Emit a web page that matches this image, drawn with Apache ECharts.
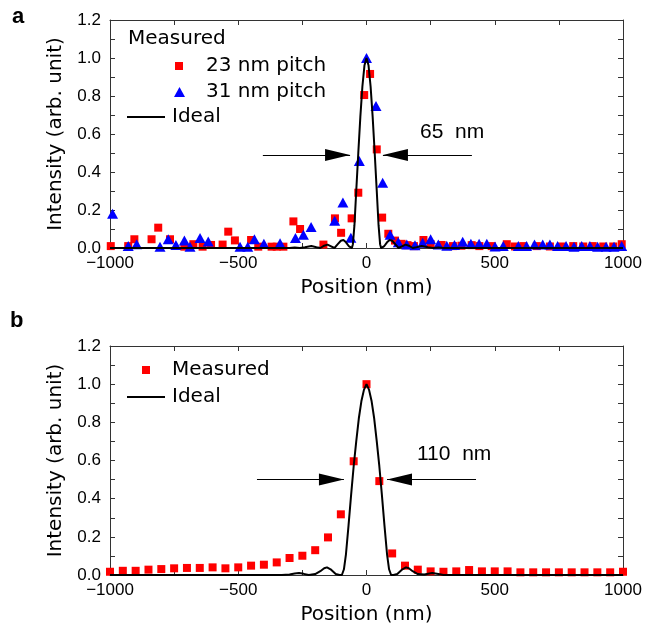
<!DOCTYPE html>
<html><head><meta charset="utf-8">
<script src="https://cdn.jsdelivr.net/npm/echarts@6/dist/echarts.min.js"></script>
<style>html,body{margin:0;padding:0;background:#fff}#c{width:648px;height:626px}</style>
</head><body><div id="c"></div>
<script>
// ---- Panel a data ----
const a23X = [-997,-929,-905,-838,-812,-766,-710,-675,-639,-606,-561,-539,-513,-450,-422,-370,-350,-324,-285,-259,-168,-123,-99,-58,-32,-9,14,40,61,85,111,137,160,185,222,250,293,337,370,410,440,488,547,579,611,664,715,761,806,845,882,923,962,995];
const a23Y = [0.01,0.01,0.046,0.046,0.107,0.046,0.007,0.02,0.007,0.016,0.018,0.086,0.04,0.042,0.007,0.007,0.007,0.007,0.14,0.1,0.018,0.156,0.08,0.156,0.291,0.805,0.916,0.519,0.16,0.075,0.039,0.022,0.015,0.01,0.042,0.02,0.016,0.01,0.012,0.015,0.01,0.01,0.02,0.008,0.01,0.01,0.008,0.008,0.01,0.008,0.01,0.008,0.008,0.02];
const a31X = [-990,-929,-896,-805,-773,-743,-710,-688,-649,-617,-493,-463,-437,-400,-337,-277,-246,-216,-124,-92,-61,-28,0,37,63,92,124,157,189,219,250,280,313,343,375,407,439,469,501,533,592,624,655,687,715,745,778,809,839,871,901,934,965,995];
const a31Y = [0.18,0.01,0.02,0.007,0.046,0.016,0.04,0.007,0.052,0.034,0.007,0.007,0.046,0.022,0.025,0.052,0.07,0.11,0.143,0.24,0.054,0.458,1.0,0.747,0.344,0.07,0.03,0.018,0.015,0.028,0.046,0.019,0.012,0.016,0.033,0.022,0.022,0.022,0.008,0.01,0.01,0.01,0.018,0.018,0.018,0.01,0.01,0.007,0.01,0.01,0.007,0.007,0.007,0.01];
const idealAX = [-1000,-300,-280,-260,-240,-215,-195,-180,-165,-152,-140,-125,-112,-100,-90,-80,-68,-57,-53,-47,-40,-32,-24,-16,-8,0,8,16,24,32,40,47,53,57,68,80,90,100,112,125,140,152,165,180,195,215,240,260,280,300,1000];
const idealAY = [0,0,0.003,0,0.004,0.01,0.004,0,0.012,0.018,0.01,0,0.02,0.038,0.042,0.03,0.008,0,0.02,0.12,0.3,0.5,0.69,0.85,0.96,1.0,0.96,0.85,0.69,0.5,0.3,0.12,0.02,0,0.008,0.03,0.042,0.038,0.02,0,0.01,0.018,0.012,0,0.004,0.01,0.004,0,0.003,0,0];
// ---- Panel b data ----
const bX = [-1000,-950,-900,-850,-800,-750,-700,-650,-600,-550,-500,-450,-400,-350,-300,-250,-200,-150,-100,-50,0,50,100,150,200,250,300,350,400,450,500,550,600,650,700,750,800,850,900,950,1000];
const bY = [0.017,0.022,0.022,0.028,0.031,0.035,0.037,0.037,0.04,0.035,0.04,0.049,0.054,0.066,0.089,0.101,0.13,0.197,0.318,0.596,1.0,0.492,0.113,0.049,0.028,0.019,0.017,0.019,0.026,0.019,0.019,0.019,0.014,0.014,0.014,0.014,0.014,0.014,0.014,0.014,0.017];
const idealBX = [-1000,-330,-300,-280,-263,-245,-225,-200,-180,-165,-154,-140,-120,-105,-96,-88,-80,-70,-60,-50,-40,-30,-20,-10,0,10,20,30,40,50,60,70,80,88,96,105,120,140,154,165,180,200,225,256,280,300,1000];
const idealBY = [0,0,0.003,0.008,0.01,0.006,0,0.005,0.02,0.035,0.04,0.03,0.005,0,0,0.03,0.11,0.26,0.42,0.57,0.7,0.82,0.91,0.97,1.0,0.97,0.91,0.82,0.7,0.57,0.42,0.26,0.11,0.03,0,0,0.005,0.03,0.04,0.035,0.02,0.005,0.003,0.01,0.005,0,0];
// ---- axes / labels ----
const xTicks = {min:-1000, max:1000, interval:500};
const yTicks = {min:0, max:1.2, interval:0.2};
const xTitle = 'Position (nm)';
const yTitle = 'Intensity (arb. unit)';
const fwhmA = {label:'65  nm', y:0.49, left:[-404,-64], right:[411,64]};
const fwhmB = {label:'110  nm', y:0.50, left:[-427,-88], right:[427,80]};

const zip = (xs, ys) => xs.map((x, i) => [x, ys[i]]);
const TF = '"Liberation Sans", Arial, sans-serif';
const LF = '"DejaVu Sans", sans-serif';
const axisCol = '#333';

function xAx(grid, pos) {
  const bottom = pos === 'bottom';
  return {
    type:'value', gridIndex:grid, position:pos, min:xTicks.min, max:xTicks.max, interval:xTicks.interval,
    axisLine:{show:true, onZero:false, lineStyle:{color:axisCol, width:1}},
    axisTick:{show:true, inside:true, length:5, lineStyle:{color:axisCol}},
    minorTick:{show:true, splitNumber:2, length:5, lineStyle:{color:axisCol}},
    splitLine:{show:false},
    axisLabel:{show:bottom, margin:7, fontSize:17, color:'#000', fontFamily:TF,
      formatter:v => String(v).replace('-', '\u2212')},
    name: bottom ? xTitle : '', nameLocation:'middle', nameGap:30,
    nameTextStyle:{fontSize:20, color:'#000', fontFamily:LF}
  };
}
function yAx(grid, pos) {
  const left = pos === 'left';
  return {
    type:'value', gridIndex:grid, position:pos, min:yTicks.min, max:yTicks.max, interval:yTicks.interval,
    axisLine:{show:true, onZero:false, lineStyle:{color:axisCol, width:1}},
    axisTick:{show:true, inside:true, length:5, lineStyle:{color:axisCol}},
    minorTick:{show:true, splitNumber:2, length:5, lineStyle:{color:axisCol}},
    splitLine:{show:false},
    axisLabel:{show:left, margin:9, fontSize:17, color:'#000', fontFamily:TF, formatter:v => v.toFixed(1)},
    name: left ? yTitle : '', nameLocation:'middle', nameGap:44, nameRotate:90,
    nameTextStyle:{fontSize:20, color:'#000', fontFamily:LF}
  };
}
function arrows(f) {
  const head = {symbol:'triangle', symbolSize:[12,25], symbolOffset:[0,'50%']};
  return {
    silent:true, symbol:['none','none'], label:{show:false}, animation:false,
    lineStyle:{color:'#000', width:1, type:'solid'}, emphasis:{disabled:true},
    data:[
      [{coord:[f.left[0], f.y], symbol:'none'}, Object.assign({coord:[f.left[1], f.y]}, head)],
      [{coord:[f.right[0], f.y], symbol:'none'}, Object.assign({coord:[f.right[1], f.y]}, head)]
    ]
  };
}
function leg(name, icon, left, top, w, h, pad, color) {
  const item = {name:name, icon:icon};
  if (color) item.itemStyle = {color:color};
  return {
    data:[item], left:left, top:top, orient:'vertical', itemWidth:w, itemHeight:h,
    padding:0, selectedMode:false,
    textStyle:{fontSize:20, color:'#000', fontFamily:LF, padding:[0,0,0,pad], lineHeight:22}
  };
}

const chart = echarts.init(document.getElementById('c'), null, {renderer:'canvas'});
chart.setOption({
  animation:false,
  backgroundColor:'#fff',
  grid:[
    {left:110, top:20, width:513, height:228},
    {left:110, top:346, width:513, height:230}
  ],
  xAxis:[xAx(0,'bottom'), xAx(0,'top'), xAx(1,'bottom'), xAx(1,'top')],
  yAxis:[yAx(0,'left'), yAx(0,'right'), yAx(1,'left'), yAx(1,'right')],
  legend:[
    leg('23 nm pitch', 'rect', 175, 55, 8, 8, 18),
    leg('31 nm pitch', 'triangle', 174, 81, 11, 10, 16),
    leg('Ideal', 'rect', 127, 106, 38, 2, 2, '#000'),
    leg('Measured', 'rect', 142, 359, 8, 8, 17),
    leg('Ideal', 'rect', 127, 386, 38, 2, 2, '#000')
  ],
  graphic:[
    {type:'text', left:128, top:29, style:{text:'Measured', font:'20px ' + LF, fill:'#000'}},
    {type:'text', left:12, top:6, style:{text:'a', font:'bold 22px ' + TF, fill:'#000'}},
    {type:'text', left:10, top:310, style:{text:'b', font:'bold 22px ' + TF, fill:'#000'}},
    {type:'text', left:420, top:122, style:{text:fwhmA.label, font:'21px ' + TF, fill:'#000'}},
    {type:'text', left:417, top:444, style:{text:fwhmB.label, font:'21px ' + TF, fill:'#000'}}
  ],
  series:[
    {name:'23 nm pitch', type:'scatter', xAxisIndex:0, yAxisIndex:0, data:zip(a23X, a23Y),
     symbol:'rect', symbolSize:8, itemStyle:{color:'#ff0000', opacity:1}, clip:false},
    {name:'31 nm pitch', type:'scatter', xAxisIndex:0, yAxisIndex:0, data:zip(a31X, a31Y),
     symbol:'triangle', symbolSize:[11,10], itemStyle:{color:'#0000ff', opacity:1}, clip:false},
    {name:'Ideal', type:'line', xAxisIndex:0, yAxisIndex:0, data:zip(idealAX, idealAY),
     symbol:'none', showSymbol:false, lineStyle:{color:'#000', width:2}, itemStyle:{color:'#000'},
     markLine:arrows(fwhmA)},
    {name:'Measured', type:'scatter', xAxisIndex:2, yAxisIndex:2, data:zip(bX, bY),
     symbol:'rect', symbolSize:8, itemStyle:{color:'#ff0000', opacity:1}, clip:false},
    {name:'Ideal', type:'line', xAxisIndex:2, yAxisIndex:2, data:zip(idealBX, idealBY),
     symbol:'none', showSymbol:false, lineStyle:{color:'#000', width:2}, itemStyle:{color:'#000'},
     markLine:arrows(fwhmB)}
  ]
});
</script></body></html>
